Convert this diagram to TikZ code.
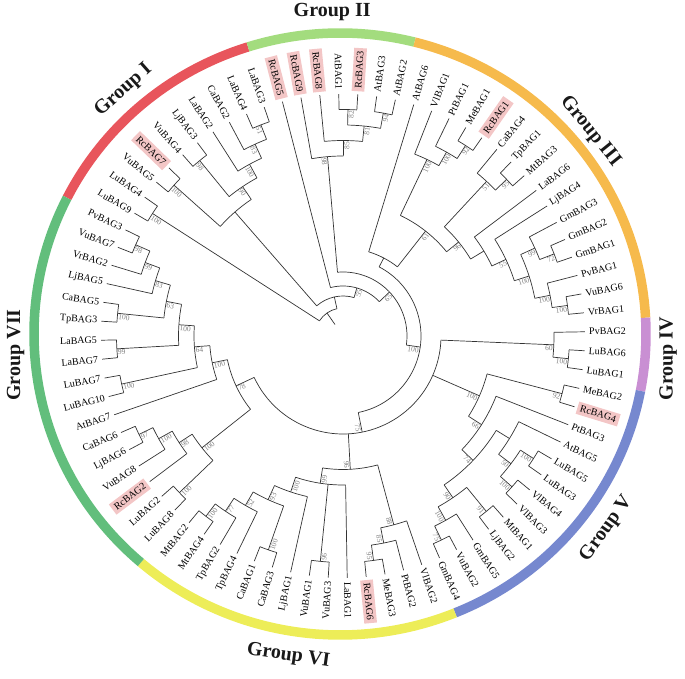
\documentclass[tikz,border=0pt]{standalone}
\usepackage{fontspec}
\setmainfont{Liberation Serif}
\definecolor{cI}{HTML}{E8555C}
\definecolor{cII}{HTML}{A3DC7E}
\definecolor{cIII}{HTML}{F6BA4C}
\definecolor{cIV}{HTML}{C98FD3}
\definecolor{cV}{HTML}{7688CF}
\definecolor{cVI}{HTML}{EDED58}
\definecolor{cVII}{HTML}{62BE7C}
\definecolor{hlpink}{HTML}{F3C6C6}
\newcommand\Arc[3]{\draw[br] (#2:#1pt) arc[start angle=#2,end angle=#3,radius=#1pt];}
\newcommand\Rad[3]{\draw[br] (#1:#2pt) -- (#1:#3pt);}
\newcommand\LR[3][]{\node[lab,#1,anchor=west,rotate=#2] (n#3) at (#2:245pt) {#3};}
\newcommand\LL[3][]{\node[lab,#1,anchor=east,rotate=#2-180] (n#3) at (#2:245pt) {#3};}
\newcommand\BR[3]{\node[bs,anchor=north east,rotate=#1] at (#1:#2pt) {#3};}
\newcommand\BL[3]{\node[bs,anchor=north west,rotate=#1-180] at (#1:#2pt) {#3};}
\newcommand\RingSeg[3]{\draw[ring,#1] (#2:306pt and 301pt) arc[start angle=#2,end angle=#3,x radius=306pt,y radius=301pt];}
\begin{document}
\begin{tikzpicture}[x=1pt,y=1pt,
  br/.style={draw=black!80,line width=0.7pt},
  lab/.style={font=\fontsize{10}{11}\selectfont,inner sep=1pt,text=black},
  hl/.style={fill=hlpink,inner sep=3pt},
  bs/.style={font=\fontsize{7.5}{8}\selectfont,text=black!50,inner sep=0.8pt},
  ring/.style={line width=9.5pt},
  grp/.style={font=\fontsize{20}{22}\selectfont\bfseries,text=black!90}]
\useasboundingbox (0,0) rectangle (685,679);
% ---------- coloured ring ----------
\begin{scope}[shift={(340,345)}]
\RingSeg{cI}{107.5}{153.1}
\RingSeg{cII}{75.9}{107.5}
\RingSeg{cIII}{3.1}{75.9}
\RingSeg{cIV}{-10.9}{3.1}
\RingSeg{cV}{-67.9}{-10.9}
\RingSeg{cVI}{-130.6}{-67.9}
\RingSeg{cVII}{153.1}{229.4}
\node[grp,rotate=41.6] (gI) at (131.6:326pt) {Group I};
\node[grp,rotate=0] (gII) at (91.4:322pt) {Group II};
\node[grp,rotate=-51] (gIII) at (39:322pt) {Group III};
\node[grp,rotate=90] (gIV) at (-4.3:329pt) {Group IV};
\node[grp,rotate=54] (gV) at (-36.2:330pt) {Group V};
\node[grp,rotate=-8] (gVI) at (-99.1:326pt) {Group VI};
\node[grp,rotate=90] (gVII) at (183.7:325pt) {Group VII};
\end{scope}
% ---------- tree ----------
\begin{scope}[shift={(343,343)}]
% Group IV
\Arc{226.5}{352}{356.5} \Rad{352}{226.5}{242} \Rad{356.5}{226.5}{242}
\Arc{211}{354.25}{361} \Rad{354.25}{211}{226.5} \Rad{361}{211}{242}
\BR{354.25}{226.5}{100} \BR{357.6}{211}{60}
% Group III
\Arc{226.5}{5.5}{10} \Rad{5.5}{226.5}{242} \Rad{10}{226.5}{242}
\Arc{211}{7.75}{14.5} \Rad{7.75}{211}{226.5} \Rad{14.5}{211}{242}
\Arc{226.5}{19}{23.5} \Rad{19}{226.5}{242} \Rad{23.5}{226.5}{242}
\Arc{211}{21.25}{28} \Rad{21.25}{211}{226.5} \Rad{28}{211}{242}
\Arc{195.5}{11.125}{24.625} \Rad{11.125}{195.5}{211} \Rad{24.625}{195.5}{211}
\Arc{180}{17.875}{32.5} \Rad{17.875}{180}{195.5} \Rad{32.5}{180}{242}
\Arc{164.5}{25.19}{37} \Rad{25.19}{164.5}{180} \Rad{37}{164.5}{242}
\Arc{226.5}{41.5}{46} \Rad{41.5}{226.5}{242} \Rad{46}{226.5}{242}
\Arc{211}{43.75}{50.5} \Rad{43.75}{211}{226.5} \Rad{50.5}{211}{242}
\Arc{149}{31.1}{47.125} \Rad{31.1}{149}{164.5} \Rad{47.125}{149}{211}
\Arc{226.5}{55}{59.5} \Rad{55}{226.5}{242} \Rad{59.5}{226.5}{242}
\Arc{211}{57.25}{64} \Rad{57.25}{211}{226.5} \Rad{64}{211}{242}
\Arc{195.5}{60.625}{68.5} \Rad{60.625}{195.5}{211} \Rad{68.5}{195.5}{242}
\Arc{133.5}{39.11}{64.56} \Rad{39.11}{133.5}{149} \Rad{64.56}{133.5}{195.5}
\Arc{88}{51.8}{73} \Rad{51.8}{88}{133.5} \Rad{73}{88}{242}
\BR{7.75}{226.5}{100} \BR{11.125}{211}{100} \BR{21.25}{226.5}{72} \BR{24.625}{211}{99}
\BR{17.875}{195.5}{100} \BR{25.19}{180}{55} \BR{43.75}{226.5}{95} \BR{47.125}{211}{51}
\BR{39.11}{149}{96} \BR{57.25}{226.5}{92} \BR{60.625}{211}{100} \BR{64.56}{195.5}{100}
\BR{51.8}{133.5}{61}
% Group II
\Arc{226.5}{77.5}{82} \Rad{77.5}{226.5}{242} \Rad{82}{226.5}{242}
\Arc{226.5}{86.5}{91} \Rad{86.5}{226.5}{242} \Rad{91}{226.5}{242}
\Arc{211}{79.75}{88.75} \Rad{79.75}{211}{226.5} \Rad{88.75}{211}{226.5}
\Arc{195.5}{84.25}{95.5} \Rad{84.25}{195.5}{211} \Rad{95.5}{195.5}{242}
\Arc{180}{89.875}{100} \Rad{89.875}{180}{195.5} \Rad{100}{180}{242}
\BR{79.75}{226.5}{94} \BR{88.75}{226.5}{82} \BR{84.25}{211}{81} \BR{89.875}{195.5}{85}
\BL{94.94}{180}{98}
% Group I
\Arc{226.5}{109}{113.5} \Rad{109}{226.5}{242} \Rad{113.5}{226.5}{242}
\Arc{211}{111.25}{118} \Rad{111.25}{211}{226.5} \Rad{118}{211}{242}
\Arc{195.5}{114.625}{122.5} \Rad{114.625}{195.5}{211} \Rad{122.5}{195.5}{242}
\Arc{226.5}{127}{131.5} \Rad{127}{226.5}{242} \Rad{131.5}{226.5}{242}
\Arc{180}{118.56}{129.25} \Rad{118.56}{180}{195.5} \Rad{129.25}{180}{226.5}
\Arc{226.5}{136}{140.5} \Rad{136}{226.5}{242} \Rad{140.5}{226.5}{242}
\Arc{164.5}{123.9}{138.25} \Rad{123.9}{164.5}{180} \Rad{138.25}{164.5}{226.5}
\Arc{226.5}{145}{149.5} \Rad{145}{226.5}{242} \Rad{149.5}{226.5}{242}
\BL{111.25}{226.5}{51} \BL{114.625}{211}{83} \BL{118.56}{195.5}{100} \BL{129.25}{226.5}{98}
\BL{123.9}{180}{90} \BL{138.25}{226.5}{100} \BL{147.25}{226.5}{100}
% Group VII
\Arc{226.5}{154}{158.5} \Rad{154}{226.5}{242} \Rad{158.5}{226.5}{242}
\Arc{211}{156.25}{163} \Rad{156.25}{211}{226.5} \Rad{163}{211}{242}
\Arc{195.5}{159.625}{167.5} \Rad{159.625}{195.5}{211} \Rad{167.5}{195.5}{242}
\Arc{226.5}{172}{176.5} \Rad{172}{226.5}{242} \Rad{176.5}{226.5}{242}
\Arc{180}{163.56}{174.25} \Rad{163.56}{180}{195.5} \Rad{174.25}{180}{226.5}
\Arc{226.5}{181}{185.5} \Rad{181}{226.5}{242} \Rad{185.5}{226.5}{242}
\Arc{164.5}{168.9}{183.25} \Rad{168.9}{164.5}{180} \Rad{183.25}{164.5}{226.5}
\Arc{226.5}{190}{194.5} \Rad{190}{226.5}{242} \Rad{194.5}{226.5}{242}
\Arc{149}{176.08}{192.25} \Rad{176.08}{149}{164.5} \Rad{192.25}{149}{226.5}
\Arc{133.5}{184.16}{199} \Rad{184.16}{133.5}{149} \Rad{199}{133.5}{242}
\Arc{226.5}{203.5}{208} \Rad{203.5}{226.5}{242} \Rad{208}{226.5}{242}
\Arc{211}{205.75}{212.5} \Rad{205.75}{211}{226.5} \Rad{212.5}{211}{242}
\Arc{195.5}{209.125}{217} \Rad{209.125}{195.5}{211} \Rad{217}{195.5}{242}
\Arc{226.5}{221.5}{226} \Rad{221.5}{226.5}{242} \Rad{226}{226.5}{242}
\Arc{180}{213.06}{223.75} \Rad{213.06}{180}{195.5} \Rad{223.75}{180}{226.5}
\Arc{118}{191.58}{218.4} \Rad{191.58}{118}{133.5} \Rad{218.4}{118}{180}
\BL{156.25}{226.5}{98} \BL{159.625}{211}{99} \BL{163.56}{195.5}{83} \BL{174.25}{226.5}{100}
\BL{168.9}{180}{63} \BL{183.25}{226.5}{99} \BL{176.08}{164.5}{100} \BL{192.25}{226.5}{100}
\BL{184.16}{149}{64} \BL{191.58}{133.5}{100} \BL{205.75}{226.5}{97} \BL{209.125}{211}{100}
\BL{213.06}{195.5}{98} \BL{223.75}{226.5}{100} \BL{218.4}{180}{100} \BL{205}{118}{78}
% Group VI
\Arc{226.5}{230.5}{235} \Rad{230.5}{226.5}{242} \Rad{235}{226.5}{242}
\Arc{211}{232.75}{239.5} \Rad{232.75}{211}{226.5} \Rad{239.5}{211}{242}
\Arc{195.5}{236.125}{244} \Rad{236.125}{195.5}{211} \Rad{244}{195.5}{242}
\Arc{226.5}{248.5}{253} \Rad{248.5}{226.5}{242} \Rad{253}{226.5}{242}
\Arc{180}{240.06}{250.75} \Rad{240.06}{180}{195.5} \Rad{250.75}{180}{226.5}
\Arc{164.5}{245.4}{257.5} \Rad{245.4}{164.5}{180} \Rad{257.5}{164.5}{242}
\Arc{226.5}{262}{266.5} \Rad{262}{226.5}{242} \Rad{266.5}{226.5}{242}
\Arc{149}{251.45}{271} \Rad{251.45}{149}{164.5} \Rad{264.25}{149}{226.5} \Rad{271}{149}{242}
\Arc{226.5}{275.5}{280} \Rad{275.5}{226.5}{242} \Rad{280}{226.5}{242}
\Arc{211}{277.75}{284.5} \Rad{277.75}{211}{226.5} \Rad{284.5}{211}{242}
\Arc{195.5}{281.125}{289} \Rad{281.125}{195.5}{211} \Rad{289}{195.5}{242}
\Arc{133.5}{261.2}{285.06} \Rad{261.2}{133.5}{149} \Rad{285.06}{133.5}{195.5}
\BL{232.75}{226.5}{100} \BL{236.125}{211}{77} \BL{240.06}{195.5}{52} \BL{250.75}{226.5}{100}
\BL{245.4}{180}{93} \BL{251.45}{164.5}{100} \BL{264.25}{226.5}{96} \BL{261.2}{149}{99}
\BR{277.75}{226.5}{95} \BR{281.125}{211}{85} \BR{285.06}{195.5}{88} \BR{273.13}{133.5}{96}
% Group V
\Arc{226.5}{293.5}{298} \Rad{293.5}{226.5}{242} \Rad{298}{226.5}{242}
\Arc{211}{295.75}{302.5} \Rad{295.75}{211}{226.5} \Rad{302.5}{211}{242}
\Arc{226.5}{307}{311.5} \Rad{307}{226.5}{242} \Rad{311.5}{226.5}{242}
\Arc{195.5}{299.125}{309.25} \Rad{299.125}{195.5}{211} \Rad{309.25}{195.5}{226.5}
\Arc{226.5}{316}{320.5} \Rad{316}{226.5}{242} \Rad{320.5}{226.5}{242}
\Arc{226.5}{325}{329.5} \Rad{325}{226.5}{242} \Rad{329.5}{226.5}{242}
\Arc{211}{318.25}{327.25} \Rad{318.25}{211}{226.5} \Rad{327.25}{211}{226.5}
\Arc{195.5}{322.75}{334} \Rad{322.75}{195.5}{211} \Rad{334}{195.5}{242}
\Arc{180}{304.19}{328.375} \Rad{304.19}{180}{195.5} \Rad{328.375}{180}{195.5}
\Arc{164.5}{316.28}{338.5} \Rad{316.28}{164.5}{180} \Rad{338.5}{164.5}{242}
\Arc{226.5}{343}{347.5} \Rad{343}{226.5}{242} \Rad{347.5}{226.5}{242}
\Arc{149}{327.39}{345.25} \Rad{327.39}{149}{164.5} \Rad{345.25}{149}{226.5}
\BR{295.75}{226.5}{75} \BR{299.125}{211}{100} \BR{309.25}{226.5}{91} \BR{304.19}{195.5}{90}
\BR{318.25}{226.5}{100} \BR{327.25}{226.5}{100} \BR{322.75}{211}{50} \BR{316.28}{180}{74}
\BR{327.39}{164.5}{66} \BR{345.25}{226.5}{92} \BR{336.32}{149}{100}
% inner nodes
\Arc{98}{205}{357.6} \Rad{205}{98}{118} \Rad{273.13}{98}{133.5} \Rad{336.32}{98}{149} \Rad{357.6}{98}{211}
\Arc{78}{281.3}{422.4} \Rad{281.3}{78}{98} \Rad{422.4}{78}{88}
\Arc{64}{-8.15}{94.94} \Rad{-8.15}{64}{78} \Rad{94.94}{64}{180}
\Arc{50}{43.4}{104.5} \Rad{43.4}{50}{64} \Rad{104.5}{50}{242}
\Arc{40}{73.95}{131.08} \Rad{73.95}{40}{50} \Rad{131.08}{40}{164.5}
\Arc{28}{102.5}{147.25} \Rad{102.5}{28}{40} \Rad{147.25}{28}{226.5}
\Rad{124.9}{14}{28}
\BR{281.3}{98}{75} \BR{351.85}{78}{100} \BR{43.4}{64}{65} \BR{73.95}{50}{55}
% leaf labels
\LR{1}{PvBAG2} \LR{5.5}{VrBAG1} \LR{10}{VuBAG6} \LR{14.5}{PvBAG1} \LR{19}{GmBAG1}
\LR{23.5}{GmBAG2} \LR{28}{GmBAG3} \LR{32.5}{LjBAG4} \LR{37}{LaBAG6} \LR{41.5}{MtBAG3}
\LR{46}{TpBAG1} \LR{50.5}{CaBAG4} \LR[hl]{55}{RcBAG1} \LR{59.5}{MeBAG1} \LR{64}{PtBAG1}
\LR{68.5}{VlBAG1} \LR{73}{AtBAG6} \LR{77.5}{AtBAG2} \LR{82}{AtBAG3} \LR[hl]{86.5}{RcBAG3}
\LL{91}{AtBAG1} \LL[hl]{95.5}{RcBAG8} \LL[hl]{100}{RcBAG9} \LL[hl]{104.5}{RcBAG5}
\LL{109}{LaBAG3} \LL{113.5}{LaBAG4} \LL{118}{CaBAG2} \LL{122.5}{LaBAG2} \LL{127}{LjBAG3}
\LL{131.5}{VuBAG4} \LL[hl]{136}{RcBAG7} \LL{140.5}{VuBAG5} \LL{145}{LuBAG4} \LL{149.5}{LuBAG9}
\LL{154}{PvBAG3} \LL{158.5}{VuBAG7} \LL{163}{VrBAG2} \LL{167.5}{LjBAG5} \LL{172}{CaBAG5}
\LL{176.5}{TpBAG3} \LL{181}{LaBAG5} \LL{185.5}{LaBAG7} \LL{190}{LuBAG7} \LL{194.5}{LuBAG10}
\LL{199}{AtBAG7} \LL{203.5}{CaBAG6} \LL{208}{LjBAG6} \LL{212.5}{VuBAG8} \LL[hl]{217}{RcBAG2}
\LL{221.5}{LuBAG2} \LL{226}{LuBAG8} \LL{230.5}{MtBAG2} \LL{235}{MtBAG4} \LL{239.5}{TpBAG2}
\LL{244}{TpBAG4} \LL{248.5}{CaBAG1} \LL{253}{CaBAG3} \LL{257.5}{LjBAG1} \LL{262}{VuBAG1}
\LL{266.5}{VuBAG3}
\LR{271}{LaBAG1} \LR[hl]{275.5}{RcBAG6} \LR{280}{MeBAG3} \LR{284.5}{PtBAG2} \LR{289}{VlBAG2}
\LR{293.5}{GmBAG4} \LR{298}{VuBAG2} \LR{302.5}{GmBAG5} \LR{307}{LjBAG2} \LR{311.5}{MtBAG1}
\LR{316}{VlBAG3} \LR{320.5}{VlBAG4} \LR{325}{LuBAG3} \LR{329.5}{LuBAG5} \LR{334}{AtBAG5}
\LR{338.5}{PtBAG3} \LR[hl]{343}{RcBAG4} \LR{347.5}{MeBAG2} \LR{352}{LuBAG1} \LR{356.5}{LuBAG6}
\end{scope}
\end{tikzpicture}
\end{document}
